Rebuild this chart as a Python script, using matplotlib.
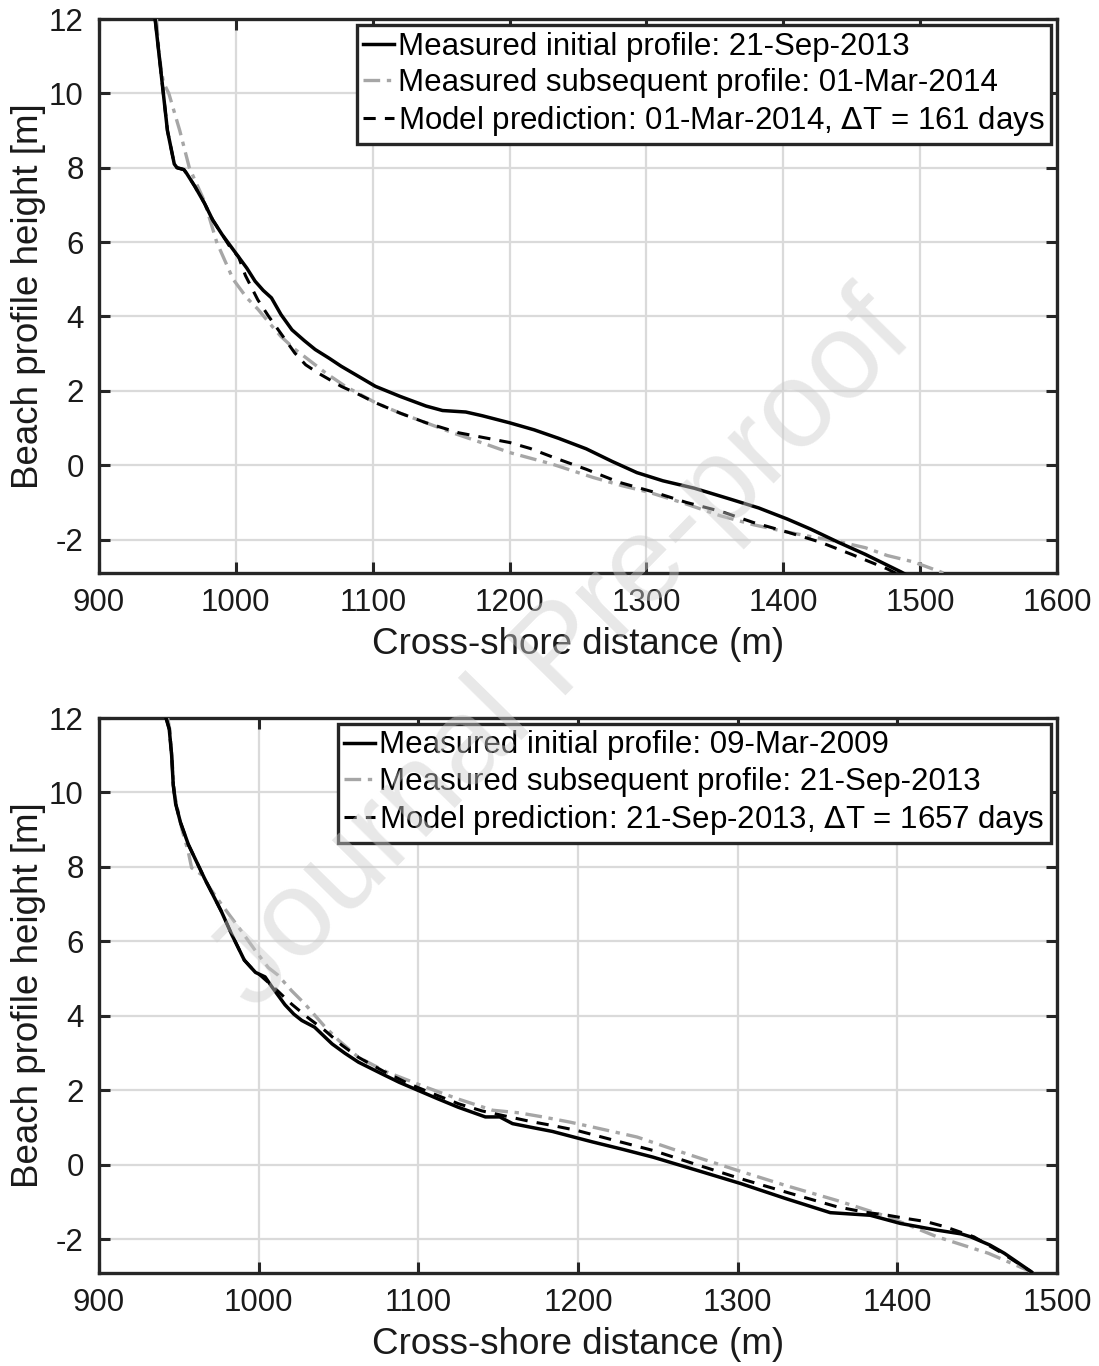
import matplotlib
matplotlib.use("Agg")
import matplotlib.pyplot as plt

plt.rcParams['font.family'] = ['Liberation Sans', 'DejaVu Sans']
plt.rcParams['axes.unicode_minus'] = False

# ---- top panel: 21-Sep-2013 -> 01-Mar-2014 ----
top_init_x = [941, 944, 947, 950, 955, 957, 962, 964, 970, 977, 983, 990, 996, 1001, 1008, 1014, 1020, 1026,
              1033, 1041, 1050, 1058, 1068, 1077, 1090, 1102, 1120, 1139, 1151, 1168, 1180, 1200, 1218, 1236,
              1256, 1275, 1293, 1312, 1335, 1361, 1382, 1403, 1420, 1440, 1460, 1486, 1490]
top_init_y = [12, 11, 10, 9, 8.1, 8.0, 7.95, 7.85, 7.5, 7.05, 6.6, 6.2, 5.9, 5.65, 5.3, 4.95, 4.7, 4.5,
              4.05, 3.64, 3.35, 3.11, 2.88, 2.66, 2.38, 2.12, 1.85, 1.59, 1.47, 1.43, 1.33, 1.14, 0.95, 0.72,
              0.44, 0.1, -0.2, -0.42, -0.62, -0.91, -1.15, -1.45, -1.72, -2.07, -2.4, -2.87, -2.95]

top_sub_x = [942, 944, 947, 951, 959, 966, 977, 986, 998, 1008, 1016, 1025, 1033, 1043, 1053, 1066, 1080,
             1091, 1102, 1120, 1139, 1160, 1180, 1200, 1231, 1261, 1282, 1302, 1328, 1354, 1378, 1403, 1420,
             1442, 1460, 1476, 1495, 1515, 1520]
top_sub_y = [12, 11, 10.3, 10, 9, 8, 7.1, 6.0, 5.0, 4.5, 4.2, 3.8, 3.46, 3.12, 2.84, 2.47, 2.12,
             1.9, 1.68, 1.4, 1.14, 0.85, 0.6, 0.34, 0.03, -0.33, -0.55, -0.73, -1.03, -1.36, -1.6, -1.8, -1.92,
             -2.07, -2.22, -2.43, -2.6, -2.87, -2.95]

top_mod_x = [941, 944, 947, 950, 955, 957, 962, 964, 970, 977, 983, 990, 996, 1002, 1007, 1016, 1024, 1031,
             1043, 1051, 1060, 1077, 1090, 1102, 1120, 1139, 1163, 1180, 1200, 1215, 1232, 1256, 1280, 1305,
             1329, 1355, 1378, 1403, 1427, 1450, 1476, 1483]
top_mod_y = [12, 11, 10, 9, 8.1, 8.0, 7.95, 7.85, 7.5, 7.05, 6.6, 6.2, 5.85, 5.6, 5.1, 4.45, 4.0, 3.64,
             3.02, 2.7, 2.48, 2.12, 1.9, 1.68, 1.4, 1.14, 0.87, 0.75, 0.61, 0.45, 0.21, -0.11, -0.46, -0.72,
             -1.0, -1.25, -1.54, -1.8, -2.07, -2.4, -2.79, -2.92]

# ---- bottom panel: 09-Mar-2009 -> 21-Sep-2013 ----
bot_init_x = [942, 944, 945.5, 946.5, 948, 951, 956, 966, 976.5, 983, 987, 991, 998, 1004, 1008, 1016.5, 1022,
              1027, 1035, 1046, 1054, 1062.5, 1077, 1088, 1100, 1112, 1125, 1142, 1151, 1159, 1172, 1184,
              1200, 1209, 1228, 1247, 1275, 1302, 1330, 1358, 1383, 1402, 1425, 1440, 1446, 1458, 1467, 1484]
bot_init_y = [12, 11.7, 11, 10.2, 9.7, 9.2, 8.6, 7.7, 6.82, 6.2, 5.85, 5.5, 5.17, 5.05, 4.8, 4.3, 4.05,
              3.88, 3.7, 3.25, 3.0, 2.76, 2.45, 2.22, 2.0, 1.78, 1.55, 1.29, 1.29, 1.11, 1.0, 0.9,
              0.72, 0.62, 0.42, 0.21, -0.15, -0.5, -0.9, -1.28, -1.35, -1.57, -1.75, -1.85, -1.93, -2.15, -2.37, -2.87]

bot_sub_x = [943, 944.5, 947.3, 952, 955.8, 958, 964, 970, 976.7, 989, 998, 1006, 1012, 1020.6, 1029,
             1041.7, 1050, 1062.5, 1080, 1104.6, 1125, 1146.5, 1163, 1178, 1195, 1209, 1237, 1268, 1299.5,
             1330, 1362, 1394, 1425, 1457, 1484]
bot_sub_y = [12, 11.65, 9.95, 9.0, 8.43, 7.98, 7.8, 7.4, 7.0, 6.29, 5.75, 5.3, 5.1, 4.68, 4.32,
             3.7, 3.35, 2.89, 2.5, 2.09, 1.77, 1.47, 1.4, 1.29, 1.15, 1.02, 0.75, 0.3, -0.14,
             -0.55, -0.95, -1.39, -1.93, -2.37, -2.87]

bot_mod_x = [942, 944, 945.5, 946.5, 948, 951, 956, 966, 976.5, 983, 987, 991, 998, 1000, 1010, 1020.6, 1031,
             1041.5, 1052, 1062.5, 1078, 1094, 1110, 1125.4, 1140, 1157, 1170, 1184, 1199, 1222, 1247, 1275,
             1302, 1332, 1362, 1380, 1394, 1406, 1418, 1430, 1448, 1465, 1484]
bot_mod_y = [12, 11.7, 11, 10.2, 9.7, 9.2, 8.6, 7.7, 6.82, 6.2, 5.85, 5.5, 5.17, 5.13, 4.75, 4.32, 3.95,
             3.61, 3.22, 2.89, 2.52, 2.18, 1.9, 1.64, 1.45, 1.29, 1.17, 1.06, 0.93, 0.67, 0.39, 0.0,
             -0.37, -0.75, -1.12, -1.27, -1.35, -1.44, -1.52, -1.66, -1.93, -2.35, -2.87]

top_labels = ['Measured initial profile: 21-Sep-2013',
              'Measured subsequent profile: 01-Mar-2014',
              'Model prediction: 01-Mar-2014, $\\Delta$T = 161 days']
bot_labels = ['Measured initial profile: 09-Mar-2009',
              'Measured subsequent profile: 21-Sep-2013',
              'Model prediction: 21-Sep-2013, $\\Delta$T = 1657 days']

fig = plt.figure(figsize=(10.99, 13.66), dpi=100)
ax1 = fig.add_axes([99/1099, 1-573/1366, 958/1099, 554/1366])
ax2 = fig.add_axes([99/1099, 1-1273/1366, 958/1099, 555/1366])

edge = '#262626'


def draw(ax, ix, iy, sx, sy, mx, my, labels, xmax, xticks):
    ax.plot(ix, iy, color='black', lw=2.5, zorder=5, label=labels[0])
    ax.plot(sx, sy, color='#a6a6a6', lw=2.4, dashes=(5, 2, 1.3, 2), zorder=4, label=labels[1])
    ax.plot(mx, my, color='black', lw=2.2, dashes=(4, 3), zorder=6, label=labels[2])
    ax.set_xlim(900, xmax)
    ax.set_ylim(-2.9, 12)
    ax.set_xticks(xticks)
    ax.set_yticks([-2, 0, 2, 4, 6, 8, 10, 12])
    ax.grid(True, color='#dadada', lw=1.6)
    ax.set_axisbelow(True)
    for s in ax.spines.values():
        s.set_linewidth(2.4)
        s.set_color(edge)
    ax.tick_params(direction='in', length=8, width=2.2, top=True, right=True,
                   labelsize=22.5, colors=edge, labelcolor='#1a1a1a', pad=11)
    ax.set_xlabel('Cross-shore distance (m)', fontsize=26.5, color='#1a1a1a', labelpad=6)
    ax.set_ylabel('Beach profile height [m]', fontsize=26.5, color='#1a1a1a', labelpad=2)
    leg = ax.legend(loc='upper right', fontsize=22.5, frameon=True, fancybox=False, framealpha=1,
                    borderaxespad=0.2, handlelength=1.0, handletextpad=0.12, labelspacing=0.2,
                    borderpad=0.2)
    leg.get_frame().set_edgecolor(edge)
    leg.get_frame().set_linewidth(2.4)
    leg.set_zorder(10)


draw(ax1, top_init_x, top_init_y, top_sub_x, top_sub_y, top_mod_x, top_mod_y, top_labels,
     1600, [900, 1000, 1100, 1200, 1300, 1400, 1500, 1600])
draw(ax2, bot_init_x, bot_init_y, bot_sub_x, bot_sub_y, bot_mod_x, bot_mod_y, bot_labels,
     1500, [900, 1000, 1100, 1200, 1300, 1400, 1500])

fig.text(0.512, 0.522, 'Journal Pre-proof', fontsize=88, rotation=45.5, color='#cccccc', alpha=0.45,
         ha='center', va='center', zorder=20)

fig.savefig('out.png', dpi=100)
